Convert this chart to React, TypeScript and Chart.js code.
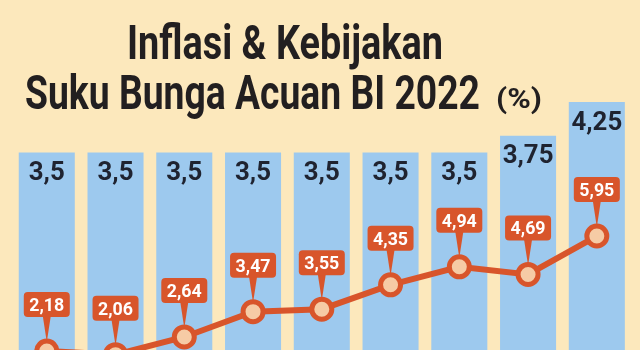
import React, { useEffect, useRef } from "react";
import { Chart, registerables } from "chart.js";

Chart.register(...registerables);

const months = ["Jan", "Feb", "Mar", "Apr", "Mei", "Jun", "Jul", "Agu", "Sep"];
const biRate = [3.5, 3.5, 3.5, 3.5, 3.5, 3.5, 3.5, 3.75, 4.25];
const inflation = [2.18, 2.06, 2.64, 3.47, 3.55, 4.35, 4.94, 4.69, 5.95];
const titleLine1 = "Inflasi & Kebijakan";
const titleLine2 = "Suku Bunga Acuan BI 2022";
const titleUnit = "(%)";

const BG = "#FCE8BC";
const BAR = "#9DC9EE";
const ORANGE = "#D8552B";
const POINT_FILL = "#F6CBA5";
const DARK = "#221F20";
const BAR_TEXT = "#1F2330";
const FONT = "Roboto, 'DejaVu Sans', sans-serif";

const fmt = (v: number) => String(v).replace(".", ",");

function drawFitted(
  ctx: CanvasRenderingContext2D,
  text: string,
  x: number,
  y: number,
  size: number,
  width: number
) {
  ctx.font = `bold ${size}px ${FONT}`;
  const w = ctx.measureText(text).width;
  ctx.save();
  ctx.translate(x, y);
  ctx.scale(width / w, 1);
  ctx.textAlign = "left";
  ctx.textBaseline = "alphabetic";
  ctx.fillText(text, 0, 0);
  ctx.restore();
}

function drawCondensed(
  ctx: CanvasRenderingContext2D,
  text: string,
  cx: number,
  baseline: number,
  size: number,
  factor: number
) {
  ctx.font = `bold ${size}px ${FONT}`;
  const w = ctx.measureText(text).width;
  ctx.save();
  ctx.translate(cx, baseline);
  ctx.scale(factor, 1);
  ctx.textAlign = "left";
  ctx.textBaseline = "alphabetic";
  ctx.fillText(text, -w / 2, 0);
  ctx.restore();
  return w * factor;
}

const bgPlugin = {
  id: "bgPlugin",
  beforeDraw(chart: any) {
    const ctx = chart.ctx as CanvasRenderingContext2D;
    ctx.save();
    ctx.fillStyle = BG;
    ctx.fillRect(0, 0, chart.width, chart.height);
    ctx.restore();
  },
};

const labelPlugin = {
  id: "labelPlugin",
  afterDatasetsDraw(chart: any) {
    const ctx = chart.ctx as CanvasRenderingContext2D;
    // bar labels
    const barMeta = chart.getDatasetMeta(1);
    ctx.save();
    ctx.font = `bold 25px ${FONT}`;
    const barFactor = 36 / ctx.measureText("3,5").width;
    ctx.fillStyle = BAR_TEXT;
    barMeta.data.forEach((el: any, i: number) => {
      drawCondensed(ctx, fmt(biRate[i]), el.x, el.y + 27.5, 25, barFactor);
    });
    ctx.restore();

    // line labels
    const lineMeta = chart.getDatasetMeta(0);
    ctx.save();
    ctx.font = `bold 18px ${FONT}`;
    const boxFactor = 35 / ctx.measureText("2,18").width;
    lineMeta.data.forEach((el: any, i: number) => {
      const txt = fmt(inflation[i]);
      ctx.font = `bold 18px ${FONT}`;
      const tw = ctx.measureText(txt).width * boxFactor;
      const bw = tw + 11;
      const bh = 25;
      const bottom = el.y - 34;
      const top = bottom - bh;
      ctx.fillStyle = ORANGE;
      ctx.beginPath();
      ctx.moveTo(el.x - 4, bottom - 1);
      ctx.lineTo(el.x + 4, bottom - 1);
      ctx.lineTo(el.x, el.y - 9);
      ctx.closePath();
      ctx.fill();
      ctx.beginPath();
      (ctx as any).roundRect(el.x - bw / 2, top, bw, bh, 4);
      ctx.fill();
      ctx.fillStyle = "#FFFFFF";
      drawCondensed(ctx, txt, el.x, top + bh / 2 + 6.5, 18, boxFactor);
    });
    ctx.restore();
  },
  afterDraw(chart: any) {
    const ctx = chart.ctx as CanvasRenderingContext2D;
    ctx.save();
    ctx.fillStyle = DARK;
    drawFitted(ctx, titleLine1, 127, 59, 49, 316);
    drawFitted(ctx, titleLine2, 25, 109, 49, 455);
    drawFitted(ctx, titleUnit, 496, 108, 28, 46);
    ctx.restore();
  },
};

export default function App() {
  const ref = useRef<HTMLCanvasElement>(null);
  useEffect(() => {
    document.body.style.margin = "0";
    document.body.style.background = BG;
    const chart = new Chart(ref.current as HTMLCanvasElement, {
      type: "bar",
      data: {
        labels: months,
        datasets: [
          {
            type: "line",
            label: "Inflasi",
            data: inflation,
            yAxisID: "y1",
            borderColor: ORANGE,
            borderWidth: 6,
            tension: 0,
            pointRadius: 10,
            pointBorderWidth: 5,
            pointBackgroundColor: POINT_FILL,
            pointBorderColor: ORANGE,
            order: 0,
          } as any,
          {
            type: "bar",
            label: "Suku Bunga Acuan BI",
            data: biRate,
            yAxisID: "y",
            backgroundColor: BAR,
            borderWidth: 0,
            barPercentage: 0.815,
            categoryPercentage: 1,
            order: 1,
          },
        ],
      },
      options: {
        responsive: false,
        animation: false,
        devicePixelRatio: 1,
        layout: {
          autoPadding: false,
          padding: { left: 12.4, right: 8.8, top: 0, bottom: 0 },
        },
        plugins: {
          legend: { display: false },
          title: { display: false },
          tooltip: { enabled: false },
        },
        scales: {
          x: { display: false, offset: true, grid: { display: false } },
          y: { display: false, min: 0.565, max: 5.766 },
          y1: { display: false, min: 2.212, max: 13.69, position: "right" },
        },
      },
      plugins: [bgPlugin, labelPlugin],
    });
    return () => chart.destroy();
  }, []);
  return (
    <div style={{ width: 640, height: 350, background: BG }}>
      <canvas ref={ref} width={640} height={350} style={{ display: "block" }} />
    </div>
  );
}
